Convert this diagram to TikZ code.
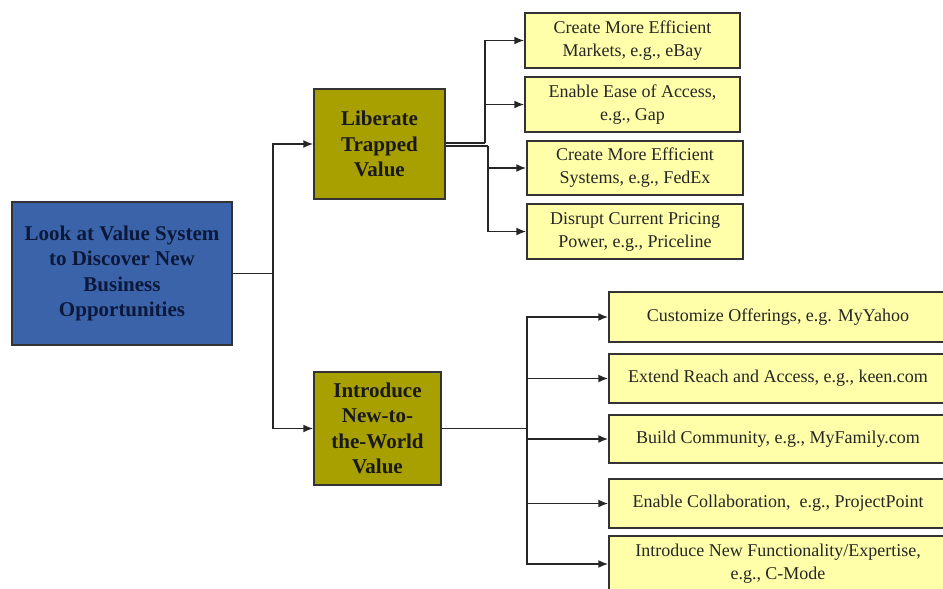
\documentclass[tikz,border=0pt]{standalone}
\usepackage{fontspec}
\setmainfont{Liberation Serif}
\usetikzlibrary{arrows.meta}
\definecolor{rootblue}{RGB}{58,99,170}
\definecolor{rootink}{RGB}{12,24,58}
\definecolor{valueolive}{RGB}{168,160,0}
\definecolor{ideayellow}{RGB}{255,255,170}

\begin{document}
\begin{tikzpicture}[x=1pt,y=-1pt]
	\tikzset{root/.style = {draw=black!80, line width=1.5pt, fill=rootblue, text=rootink, align=center,
			font=\fontsize{21}{25.5}\selectfont\bfseries, inner sep=0pt},
		value/.style = {draw=black!80, line width=1.5pt, fill=valueolive, text=black!90, align=center,
			font=\fontsize{21}{25.5}\selectfont\bfseries, inner sep=0pt},
		idea/.style = {draw=black!80, line width=1.5pt, fill=ideayellow, text=black!85, align=center,
			font=\fontsize{18}{23}\selectfont, inner sep=0pt},
		wire/.style = {line width=1.6pt, black!85},
		link/.style = {wire, -{Latex[length=10pt,width=8pt]}}}
	\useasboundingbox (0,0) rectangle (943,589);
	% main boxes
	\node[root, minimum width=220, minimum height=143] (root) at (122,273.5)
		{Look at Value System\\to Discover New\\Business\\Opportunities};
	\node[value, minimum width=131, minimum height=110] (lib) at (379.5,144)
		{Liberate\\Trapped\\Value};
	\node[value, minimum width=127, minimum height=113] (intro) at (377.5,428.5)
		{Introduce\\New-to-\\the-World\\Value};
	% upper ideas
	\node[idea, minimum width=215, minimum height=55] (t1) at (632.5,40.5)
		{Create More Efficient\\Markets, e.g., eBay};
	\node[idea, minimum width=215, minimum height=55] (t2) at (632.5,104.5)
		{Enable Ease of Access,\\e.g., Gap};
	\node[idea, minimum width=216, minimum height=54] (t3) at (635,168)
		{Create More Efficient\\Systems, e.g., FedEx};
	\node[idea, minimum width=216, minimum height=55] (t4) at (635,231.5)
		{Disrupt Current Pricing\\Power, e.g., Priceline};
	% lower ideas
	\node[idea, minimum width=338, minimum height=50] (b1) at (778,317)
		{Customize Offerings, e.g. MyYahoo};
	\node[idea, minimum width=338, minimum height=49] (b2) at (778,378.5)
		{Extend Reach and Access, e.g., keen.com};
	\node[idea, minimum width=338, minimum height=48] (b3) at (778,439)
		{Build Community, e.g., MyFamily.com};
	\node[idea, minimum width=338, minimum height=49] (b4) at (778,503.5)
		{Enable Collaboration,\ \ e.g., ProjectPoint};
	\node[idea, minimum width=338, minimum height=56] (b5) at (778,564)
		{Introduce New Functionality/Expertise,\\e.g., C-Mode};
	% connectors
	\coordinate (rb) at (273,273.5);
	\draw[wire] (root.east) -- (rb);
	\foreach \v in {lib, intro}{
		\draw[link] (rb) |- (\v.west);
	}
	\coordinate (ja) at (485,143);
	\coordinate (jb) at (488,146);
	\draw[wire] ([yshift=1pt]lib.east) -- (ja);
	\draw[wire] ([yshift=-2pt]lib.east) -- (jb);
	\foreach \t in {t1, t2}{
		\draw[link] (ja) |- (\t.west);
	}
	\foreach \t in {t3, t4}{
		\draw[link] (jb) |- (\t.west);
	}
	\coordinate (ib) at (527,428.5);
	\draw[wire] (intro.east) -- (ib);
	\foreach \b in {b1, b2, b3, b4, b5}{
		\draw[link] (ib) |- (\b.west);
	}
\end{tikzpicture}
\end{document}
